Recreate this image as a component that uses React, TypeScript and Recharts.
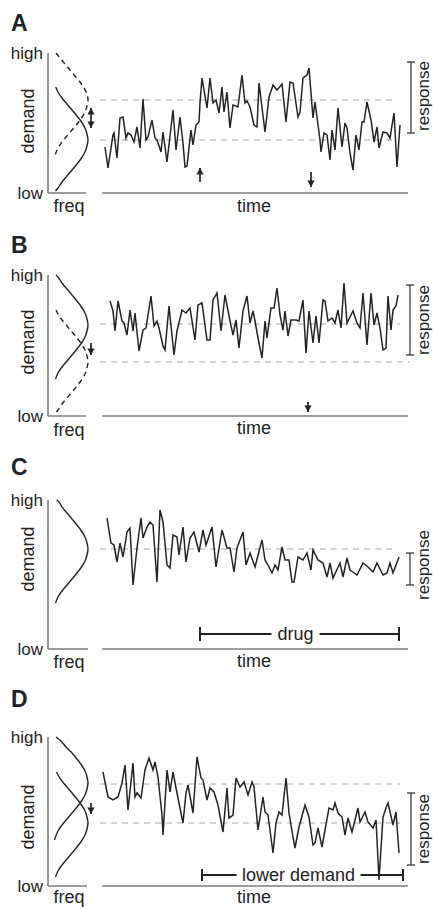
import React from 'react';
import { LineChart, Line, XAxis, YAxis, ReferenceLine } from 'recharts';

const FONT = '"Liberation Sans", Arial, Helvetica, sans-serif';
const INK = '#232323';
const AXIS = '#7c7c7c';
const DASH = '#a9a9a9';

// ---- panel A: demand rises, then falls back
const aTime = [3, 6, 11, 12, 15, 18, 21, 24, 26, 29, 32, 35, 38, 41, 44, 46, 50, 53, 55, 59, 61, 65, 71, 74, 78, 81, 83, 85, 89, 91, 94, 97, 98, 100, 105, 108, 111, 114, 117, 120, 122, 125, 128, 131, 136, 140, 143, 145, 148, 152, 155, 157, 163, 167, 171, 175, 180, 184, 188, 191, 196, 198, 201, 205, 207, 211, 213, 218, 219, 222, 225, 228, 230, 233, 236, 240, 243, 245, 248, 251, 254, 257, 260, 262, 265, 269, 272, 275, 277, 281, 285, 288, 292, 295, 298];
const aDemand = [46, 25, 58, 60, 35, 75, 76, 55, 60, 58, 51, 66, 45, 94, 53, 56, 73, 55, 53, 41, 61, 31, 83, 43, 76, 50, 26, 27, 63, 48, 68, 71, 90, 115, 85, 115, 90, 93, 80, 106, 81, 101, 65, 88, 86, 118, 90, 92, 86, 68, 66, 110, 61, 96, 108, 103, 109, 71, 111, 110, 76, 81, 115, 118, 125, 75, 91, 53, 41, 60, 58, 33, 63, 43, 85, 46, 70, 65, 40, 23, 58, 43, 71, 71, 91, 73, 51, 66, 45, 61, 60, 55, 80, 26, 68];
const aSolidD = [106, 101, 95, 89, 83, 77, 71, 65, 59, 53, 47, 41, 35, 29, 23, 17, 11, 5, 2];
const aSolidF = [7.8, 10, 14, 19, 24, 29, 33.5, 37, 39, 40, 39, 37, 33.5, 29, 24, 19, 14, 10, 7.5];
const aDashD = [140, 135, 129, 123, 117, 111, 105, 99, 93, 87, 81, 75, 69, 63, 57, 51, 45, 39, 36];
const aDashF = [8, 12, 17, 22, 27, 32, 36, 39, 40, 39, 37, 33.5, 29, 24, 19, 14, 10, 7.5, 6.5];

// ---- panel B: demand drops, response unchanged
const bTime = [8, 11, 13, 16, 20, 22, 25, 28, 31, 33, 37, 41, 44, 49, 52, 55, 57, 61, 63, 67, 72, 75, 80, 84, 88, 93, 96, 100, 105, 108, 111, 115, 119, 123, 128, 131, 134, 137, 141, 145, 148, 151, 153, 156, 160, 163, 165, 169, 172, 175, 178, 181, 183, 186, 189, 194, 197, 201, 204, 207, 211, 214, 217, 221, 223, 226, 230, 233, 236, 239, 242, 245, 249, 251, 255, 258, 261, 265, 269, 272, 275, 278, 281, 284, 286, 289, 291, 294, 296];
const bDemand = [115, 105, 85, 115, 95, 93, 81, 106, 85, 103, 65, 86, 88, 120, 90, 95, 88, 70, 66, 110, 61, 85, 106, 103, 108, 76, 111, 113, 76, 76, 116, 123, 85, 121, 95, 81, 96, 68, 105, 120, 93, 105, 95, 78, 58, 95, 78, 108, 108, 128, 101, 86, 105, 80, 96, 96, 95, 116, 63, 105, 73, 100, 73, 116, 115, 95, 98, 93, 106, 88, 133, 93, 101, 105, 93, 88, 123, 71, 123, 91, 103, 88, 66, 68, 120, 86, 106, 110, 121];
const bSolidD = [141, 139, 133, 127, 121, 115, 109, 103, 97, 91, 85, 79, 73, 67, 61, 55, 49, 43, 37];
const bSolidF = [8, 10, 14, 19, 24, 29, 33.5, 37, 39, 40, 39, 37, 33.5, 29, 24, 19, 14, 10, 7.5];
const bDashD = [106, 102, 96, 90, 84, 78, 72, 66, 60, 54, 48, 42, 36, 30, 24, 18, 12, 6, 3];
const bDashF = [8, 10, 14, 19, 24, 29, 33.5, 37, 39, 40, 39, 37, 33.5, 29, 24, 19, 14, 10, 8];

// ---- panel C: drug
const cTime = [5, 9, 12, 15, 18, 21, 25, 28, 31, 35, 39, 41, 45, 48, 51, 55, 58, 61, 65, 68, 71, 75, 77, 81, 84, 88, 92, 97, 101, 104, 110, 114, 120, 125, 128, 132, 135, 141, 144, 148, 153, 160, 163, 166, 170, 173, 176, 180, 183, 187, 190, 192, 196, 201, 205, 209, 211, 216, 221, 225, 228, 231, 238, 241, 245, 248, 251, 255, 261, 266, 271, 275, 281, 285, 288, 291, 297];
const cDemand = [131, 106, 104, 87, 106, 92, 117, 121, 64, 101, 131, 111, 122, 127, 124, 67, 139, 127, 84, 81, 114, 112, 94, 122, 87, 111, 117, 97, 119, 104, 122, 82, 119, 101, 101, 77, 101, 117, 84, 96, 82, 109, 89, 84, 76, 84, 79, 102, 89, 89, 67, 67, 92, 89, 96, 79, 99, 89, 86, 72, 86, 71, 86, 72, 91, 79, 77, 74, 86, 82, 77, 86, 74, 76, 86, 76, 92];
const cSolidD = [149, 148, 142, 136, 130, 124, 118, 112, 106, 100, 94, 88, 82, 76, 70, 64, 58, 52, 46];
const cSolidF = [8.5, 10, 14, 19, 24, 29, 33.5, 37, 39, 40, 39, 37, 33.5, 29, 24, 19, 14, 10, 7.5];

// ---- panel D: lower demand
const dTime = [1, 6, 11, 16, 20, 23, 26, 31, 33, 35, 39, 43, 47, 51, 53, 56, 60, 61, 65, 68, 71, 74, 81, 84, 86, 91, 95, 99, 101, 105, 108, 112, 116, 121, 125, 127, 131, 134, 138, 142, 146, 150, 152, 156, 161, 163, 166, 171, 174, 177, 180, 184, 187, 191, 193, 197, 203, 207, 211, 213, 216, 220, 223, 227, 231, 233, 236, 240, 243, 246, 250, 256, 258, 263, 266, 271, 274, 277, 281, 285, 286, 291, 294, 297];
const dDemand = [114, 89, 86, 89, 103, 121, 76, 123, 89, 93, 88, 116, 128, 116, 124, 109, 71, 51, 116, 94, 114, 98, 63, 93, 101, 73, 129, 108, 106, 86, 98, 94, 81, 54, 98, 68, 71, 108, 99, 104, 91, 104, 99, 56, 89, 74, 71, 33, 63, 74, 71, 108, 73, 49, 38, 59, 81, 69, 41, 43, 58, 39, 56, 78, 76, 83, 73, 69, 51, 68, 54, 78, 64, 74, 64, 58, 66, 6, 69, 81, 83, 61, 74, 33];
const dUpperD = [149, 145, 139, 133, 127, 121, 115, 109, 103, 97, 91, 85, 79, 73, 67, 61, 55, 49, 46];
const dUpperF = [8, 13, 18, 24, 29, 33.5, 37, 39, 40, 39, 37, 33.5, 29, 24, 19, 14, 10, 7.5, 6.5];
const dLowerD = [114, 111, 105, 99, 93, 87, 81, 75, 69, 63, 57, 51, 45, 39, 33, 27, 21, 15, 9];
const dLowerF = [8.5, 10, 14, 19, 24, 29, 33.5, 37, 39, 40, 39, 37, 33.5, 29, 24, 19, 14, 10, 7.5];

const series = (t: number[], v: number[]) => t.map((x, i) => ({ t: x, v: v[i] }));
const curve = (d: number[], f: number[]) => d.map((y, i) => ({ d: y, f: f[i] }));

function headPoints(xa: number, ya: number, xb: number, yb: number) {
  const dx = xb - xa;
  const dy = yb - ya;
  const len = Math.hypot(dx, dy) || 1;
  const ux = dx / len;
  const uy = dy / len;
  const bx = xb - ux * 6.5;
  const by = yb - uy * 6.5;
  return `${xb},${yb} ${bx - uy * 3.6},${by + ux * 3.6} ${bx + uy * 3.6},${by - ux * 3.6}`;
}

const arrowShape = (both: boolean) => (p: any) => (
  <g>
    <line x1={p.x1} y1={p.y1} x2={p.x2} y2={p.y2} stroke={INK} strokeWidth={1.7} />
    <polygon points={headPoints(p.x1, p.y1, p.x2, p.y2)} fill={INK} />
    {both && <polygon points={headPoints(p.x2, p.y2, p.x1, p.y1)} fill={INK} />}
  </g>
);

const bracketShape = (p: any) => (
  <g stroke="#3a3a3a" strokeWidth={1.3}>
    <line x1={p.x1} y1={p.y1} x2={p.x2} y2={p.y2} />
    <line x1={p.x1 - 4} y1={p.y1} x2={p.x1 + 4} y2={p.y1} />
    <line x1={p.x2 - 4} y1={p.y2} x2={p.x2 + 4} y2={p.y2} />
  </g>
);

const barShape = (text: string, gap: number, cap: number) => (p: any) => {
  const mid = (p.x1 + p.x2) / 2 - 4;
  return (
    <g>
      <line x1={p.x1} y1={p.y1} x2={p.x2} y2={p.y2} stroke={INK} strokeWidth={2} />
      <line x1={p.x1} y1={p.y1 - cap} x2={p.x1} y2={p.y1 + cap} stroke={INK} strokeWidth={2} />
      <line x1={p.x2} y1={p.y2 - cap} x2={p.x2} y2={p.y2 + cap} stroke={INK} strokeWidth={2} />
      <rect x={mid - gap / 2} y={p.y1 - 10} width={gap} height={20} fill="#fff" />
      <text x={mid} y={p.y1} textAnchor="middle" dominantBaseline="central" fontSize={18} fontFamily={FONT} fill={INK}>
        {text}
      </text>
    </g>
  );
};

function Label({ x, y, text, size = 18, rotate = 0, bold = false, left = false }: any) {
  return (
    <div
      style={{
        position: 'absolute',
        left: x,
        top: y,
        transform: `translate(${left ? '0' : '-50%'}, -50%) rotate(${rotate}deg)`,
        fontSize: size,
        fontFamily: FONT,
        fontWeight: bold ? 700 : 400,
        color: INK,
        lineHeight: 1,
        whiteSpace: 'nowrap',
      }}
    >
      {text}
    </div>
  );
}

type Curve = { data: { d: number; f: number }[]; dashed?: boolean };
type Arrow = { at: number; from: number; to: number; both?: boolean };

type PanelProps = {
  letter: string;
  letterY: number;
  top: number;
  bottom: number;
  maxD: number;
  curves: Curve[];
  freqEnd: number;
  gArrows: Arrow[];
  data: { t: number; v: number }[];
  levels: { v: number; end: number }[];
  tArrows: Arrow[];
  bracket: { at: number; hi: number; lo: number };
  bar?: { from: number; to: number; d: number; text: string; gap: number; cap: number };
  demandY: number;
  freqY: number;
  timeY: number;
  responseY: number;
};

function Panel(p: PanelProps) {
  const h = p.bottom - p.top;
  return (
    <>
      <Label x={11} y={p.letterY} text={p.letter} size={23} bold left />
      {/* demand distributions, drawn sideways: freq runs right, demand runs up */}
      <div style={{ position: 'absolute', left: 0, top: p.top - 12 }}>
        <LineChart layout="vertical" width={110} height={h + 24} margin={{ top: 12, right: 14, bottom: 12, left: 0 }}>
          <XAxis type="number" dataKey="f" domain={[0, 48]} hide />
          <YAxis
            type="number"
            dataKey="d"
            reversed
            domain={[0, p.maxD]}
            ticks={[0, p.maxD]}
            interval={0}
            tickFormatter={(v: number) => (v === 0 ? 'low' : 'high')}
            width={48}
            axisLine={{ stroke: AXIS, strokeWidth: 1.6 }}
            tickLine={false}
            tickSize={4}
            tickMargin={1}
            tick={{ fontSize: 17, fill: INK, fontFamily: FONT }}
          />
          <ReferenceLine
            segment={[{ x: 0, y: 0 }, { x: p.freqEnd, y: 0 }]}
            stroke={AXIS}
            strokeWidth={1.6}
            ifOverflow="visible"
          />
          {p.curves.map((c, i) => (
            <Line
              key={i}
              data={c.data}
              dataKey="f"
              type="monotone"
              dot={false}
              stroke={INK}
              strokeWidth={1.4}
              strokeDasharray={c.dashed ? '5 4' : undefined}
              isAnimationActive={false}
            />
          ))}
          {p.gArrows.map((a, i) => (
            <ReferenceLine
              key={'g' + i}
              segment={[{ x: a.at, y: a.from }, { x: a.at, y: a.to }]}
              ifOverflow="visible"
              shape={arrowShape(!!a.both)}
            />
          ))}
        </LineChart>
      </div>
      <div style={{ position: 'absolute', left: 90, top: p.top - 12 }}>
        <LineChart width={343} height={h + 42} data={p.data} margin={{ top: 12, right: 25, bottom: 0, left: 12 }}>
          <XAxis
            type="number"
            dataKey="t"
            domain={[0, 306]}
            tick={false}
            tickLine={false}
            height={30}
            axisLine={{ stroke: AXIS, strokeWidth: 1.6 }}
          />
          <YAxis type="number" domain={[0, p.maxD]} hide />
          {p.levels.map((l, i) => (
            <ReferenceLine
              key={'l' + i}
              segment={[{ x: -2, y: l.v }, { x: l.end, y: l.v }]}
              stroke={DASH}
              strokeWidth={1.2}
              strokeDasharray="6 5"
              ifOverflow="visible"
            />
          ))}
          <Line dataKey="v" type="linear" dot={false} stroke={INK} strokeWidth={1.5} isAnimationActive={false} />
          {p.tArrows.map((a, i) => (
            <ReferenceLine
              key={'a' + i}
              segment={[{ x: a.at, y: a.from }, { x: a.at, y: a.to }]}
              ifOverflow="visible"
              shape={arrowShape(false)}
            />
          ))}
          <ReferenceLine
            segment={[{ x: p.bracket.at, y: p.bracket.hi }, { x: p.bracket.at, y: p.bracket.lo }]}
            ifOverflow="visible"
            shape={bracketShape}
          />
          {p.bar && (
            <ReferenceLine
              segment={[{ x: p.bar.from, y: p.bar.d }, { x: p.bar.to, y: p.bar.d }]}
              ifOverflow="visible"
              shape={barShape(p.bar.text, p.bar.gap, p.bar.cap)}
            />
          )}
        </LineChart>
      </div>
      <Label x={28} y={p.demandY} text="demand" rotate={-90} />
      <Label x={69} y={p.freqY} text="freq" />
      <Label x={254} y={p.timeY} text="time" />
      <Label x={423} y={p.responseY} text="response" size={17} rotate={-90} />
    </>
  );
}

export default function App() {
  return (
    <div
      style={{
        position: 'absolute',
        left: 0,
        top: 0,
        width: 433,
        height: 909,
        overflow: 'hidden',
        background: '#fff',
      }}
    >
      <Panel
        letter="A"
        letterY={23}
        top={53}
        bottom={193}
        maxD={140}
        curves={[{ data: curve(aSolidD, aSolidF) }, { data: curve(aDashD, aDashF), dashed: true }]}
        freqEnd={38}
        gArrows={[{ at: 43, from: 85, to: 65, both: true }]}
        data={series(aTime, aDemand)}
        levels={[{ v: 93, end: 291 }, { v: 53, end: 291 }]}
        tArrows={[{ at: 98, from: 11, to: 25 }, { at: 209, from: 21, to: 6 }]}
        bracket={{ at: 309, hi: 131, lo: 60 }}
        demandY={121}
        freqY={206}
        timeY={206}
        responseY={96}
      />
      <Panel
        letter="B"
        letterY={245}
        top={275}
        bottom={416}
        maxD={141}
        curves={[{ data: curve(bSolidD, bSolidF) }, { data: curve(bDashD, bDashF), dashed: true }]}
        freqEnd={38}
        gArrows={[{ at: 43, from: 73, to: 61 }]}
        data={series(bTime, bDemand)}
        levels={[{ v: 92, end: 298 }, { v: 54, end: 308 }]}
        tArrows={[{ at: 206, from: 14, to: 4 }]}
        bracket={{ at: 308, hi: 131, lo: 61 }}
        demandY={342}
        freqY={430}
        timeY={428}
        responseY={320}
      />
      <Panel
        letter="C"
        letterY={467}
        top={500}
        bottom={649}
        maxD={149}
        curves={[{ data: curve(cSolidD, cSolidF) }]}
        freqEnd={40}
        gArrows={[]}
        data={series(cTime, cDemand)}
        levels={[{ v: 100, end: 295 }]}
        tArrows={[]}
        bracket={{ at: 308, hi: 96, lo: 64 }}
        bar={{ from: 98, to: 297, d: 15, text: 'drug', gap: 48, cap: 7 }}
        demandY={559}
        freqY={662}
        timeY={661}
        responseY={565}
      />
      <Panel
        letter="D"
        letterY={699}
        top={737}
        bottom={886}
        maxD={149}
        curves={[{ data: curve(dUpperD, dUpperF) }, { data: curve(dLowerD, dLowerF) }]}
        freqEnd={39}
        gArrows={[{ at: 43, from: 83, to: 72 }]}
        data={series(dTime, dDemand)}
        levels={[{ v: 102, end: 298 }, { v: 63, end: 298 }]}
        tArrows={[]}
        bracket={{ at: 309, hi: 93, lo: 21 }}
        bar={{ from: 100, to: 301, d: 11, text: 'lower demand', gap: 124, cap: 6 }}
        demandY={817}
        freqY={897}
        timeY={897}
        responseY={829}
      />
    </div>
  );
}
